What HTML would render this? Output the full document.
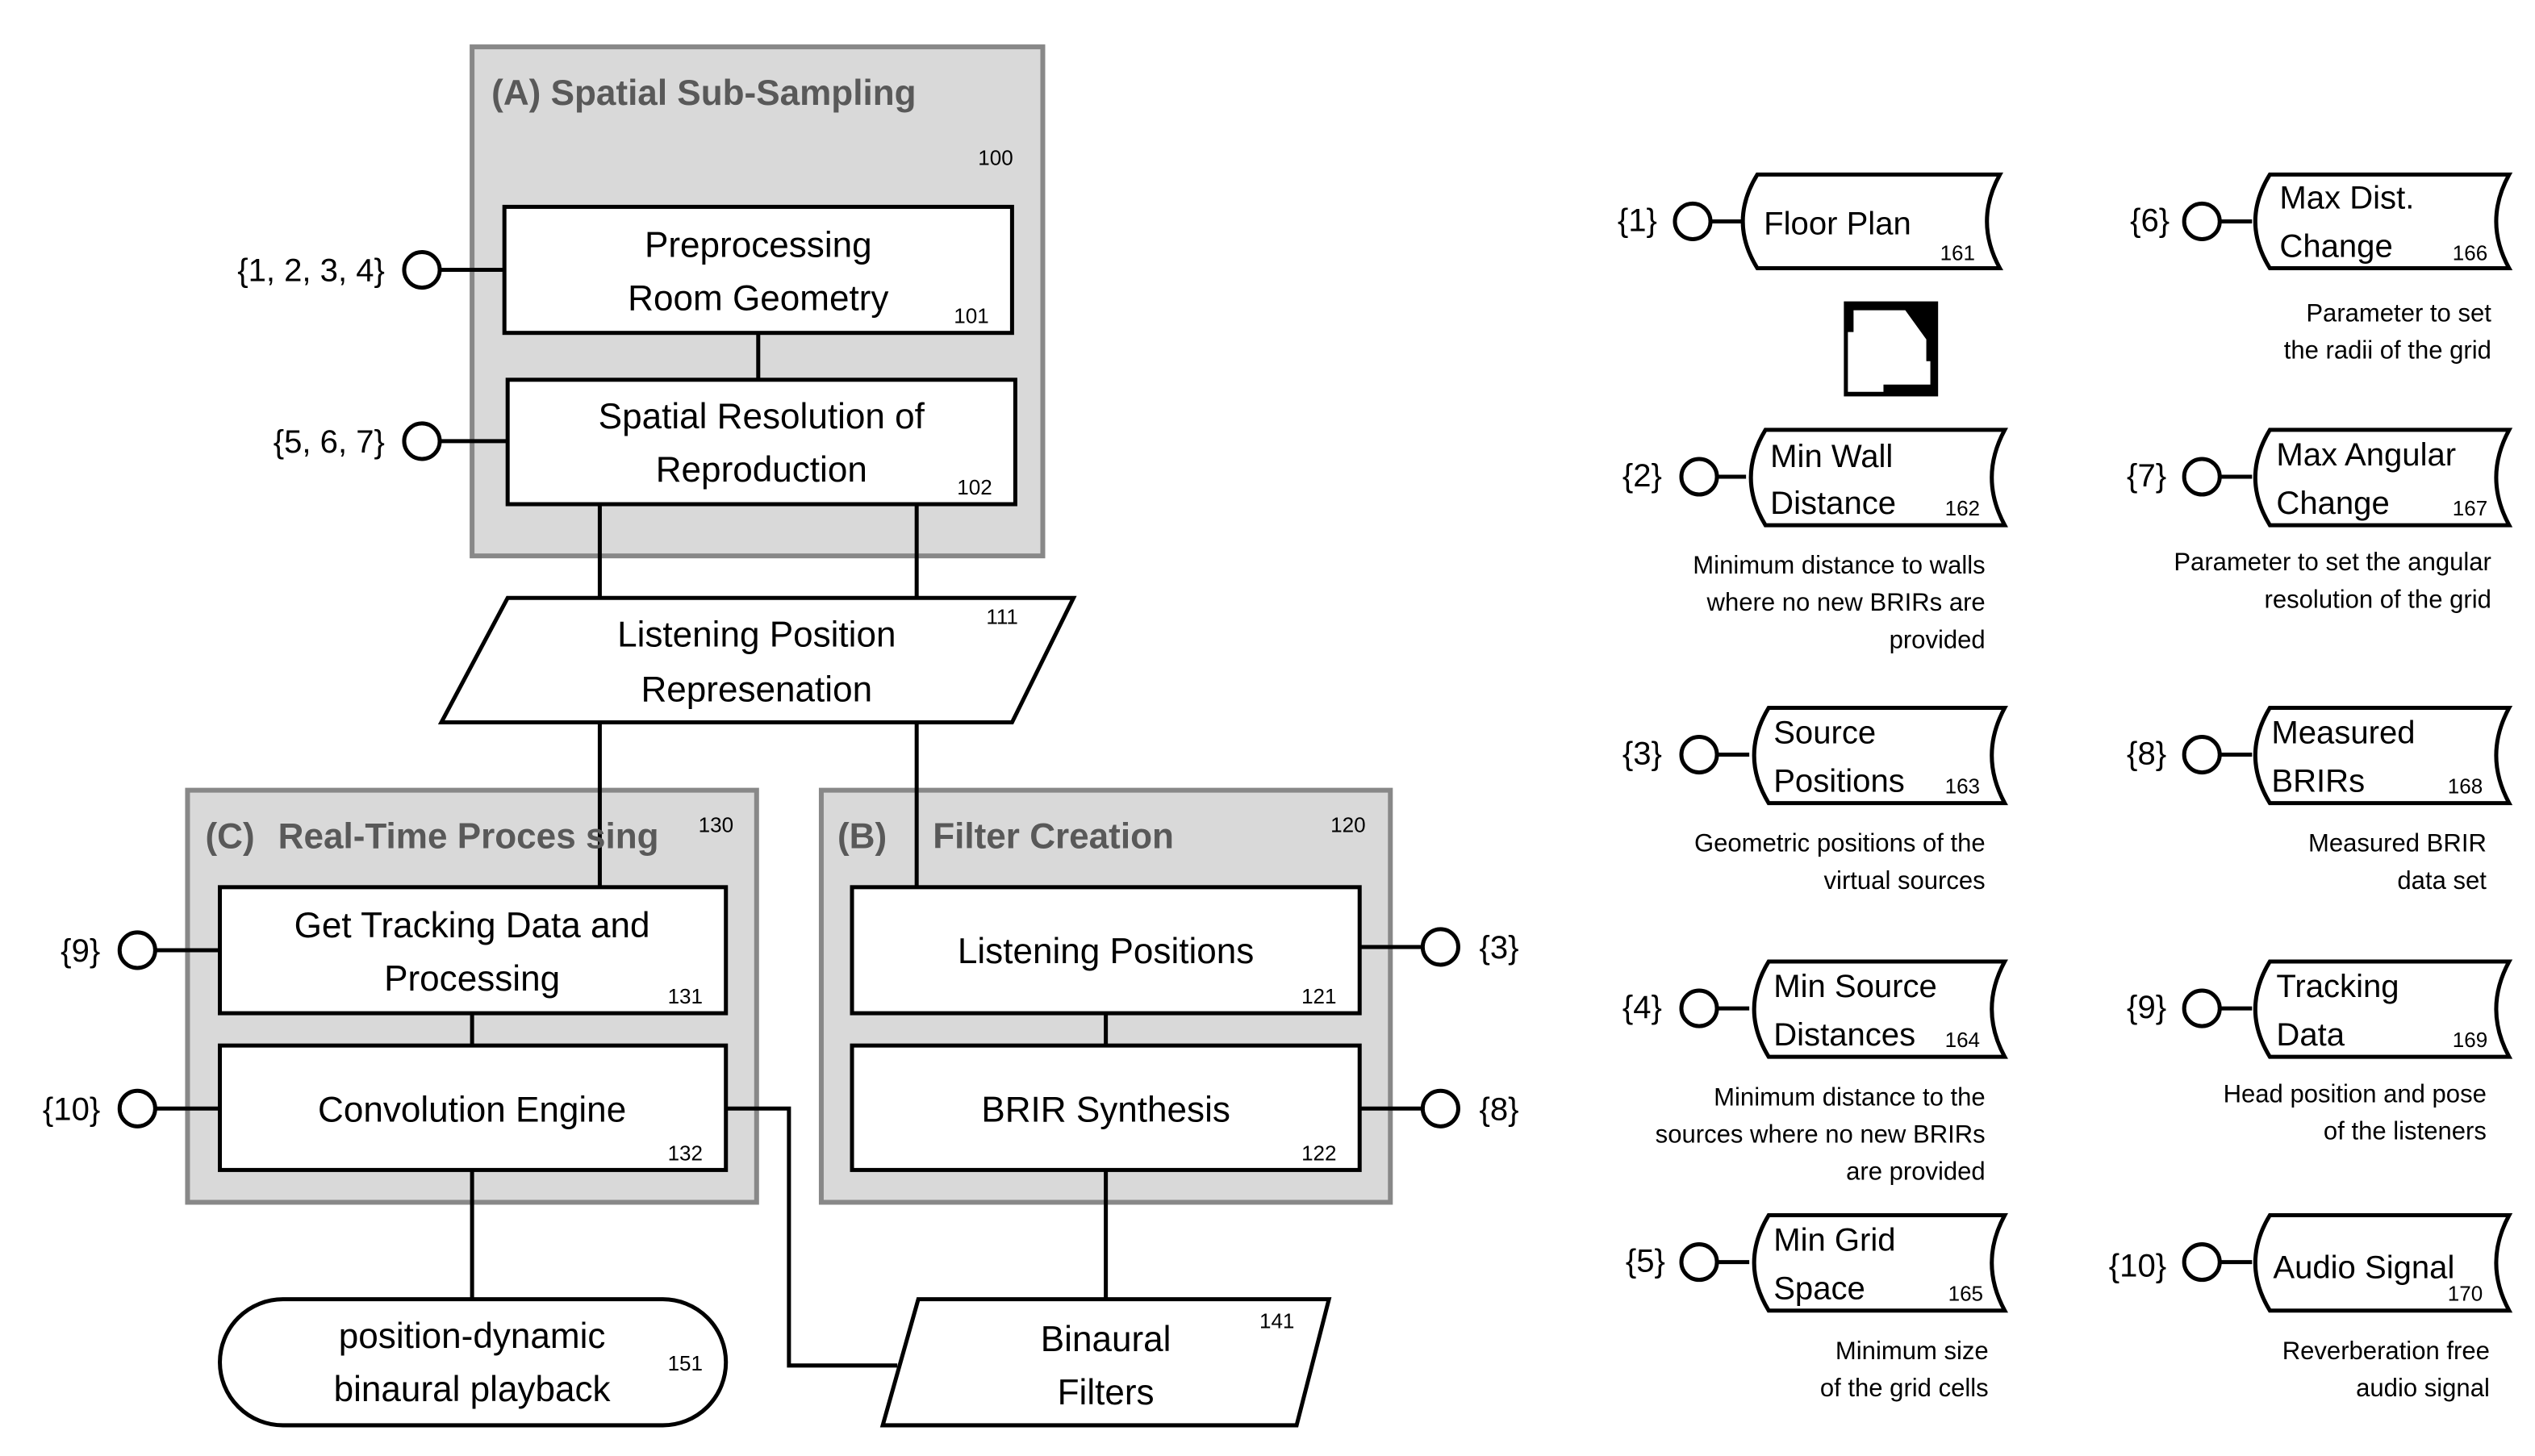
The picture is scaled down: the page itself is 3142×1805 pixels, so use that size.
<!DOCTYPE html>
<html><head><meta charset="utf-8"><style>
html,body{margin:0;padding:0;background:#fff}
svg{display:block}
text{font-family:"Liberation Sans",sans-serif;fill:#000}
.t{font-size:22px;text-anchor:middle}
.n{font-size:13px}
.h{font-size:22px;font-weight:bold;fill:#595959}
.d{font-size:15.5px;text-anchor:end}
.k{font-size:20px;text-anchor:end}
.l{font-size:20px}
</style></head><body>
<svg width="3142" height="1805" viewBox="0 0 1568 901" preserveAspectRatio="none" xmlns="http://www.w3.org/2000/svg">
<g fill="none" stroke="#000" stroke-width="2.5">
<rect x="292" y="29" width="353" height="315" fill="#d9d9d9" stroke="#888" stroke-width="3"/>
<rect x="116" y="489" width="352" height="255" fill="#d9d9d9" stroke="#888" stroke-width="3"/>
<rect x="508" y="489" width="352" height="255" fill="#d9d9d9" stroke="#888" stroke-width="3"/>
<line x1="469" y1="206" x2="469" y2="235"/>
<line x1="371" y1="312" x2="371" y2="370"/>
<line x1="567" y1="312" x2="567" y2="370"/>
<line x1="371" y1="447" x2="371" y2="549"/>
<line x1="567" y1="447" x2="567" y2="549"/>
<line x1="292" y1="627" x2="292" y2="647"/>
<line x1="684" y1="627" x2="684" y2="647"/>
<line x1="292" y1="724" x2="292" y2="804"/>
<line x1="684" y1="724" x2="684" y2="804"/>
<polyline points="449,686 488,686 488,845 555,845"/>
<line x1="272" y1="167" x2="312" y2="167"/>
<line x1="272" y1="273" x2="314" y2="273"/>
<line x1="96" y1="588" x2="136" y2="588"/>
<line x1="96" y1="686" x2="136" y2="686"/>
<line x1="841" y1="586" x2="880" y2="586"/>
<line x1="841" y1="686" x2="880" y2="686"/>
<rect x="312" y="128" width="314" height="78" fill="#fff"/>
<rect x="314" y="235" width="314" height="77" fill="#fff"/>
<polygon points="314,370 664,370 626,447 273,447" fill="#fff"/>
<rect x="136" y="549" width="313" height="78" fill="#fff"/>
<rect x="136" y="647" width="313" height="77" fill="#fff"/>
<rect x="527" y="549" width="314" height="78" fill="#fff"/>
<rect x="527" y="647" width="314" height="77" fill="#fff"/>
<rect x="136" y="804" width="313" height="78" rx="39" fill="#fff"/>
<polygon points="568,804 822,804 802,882 546,882" fill="#fff"/>
<circle cx="261" cy="167" r="11" fill="#fff"/>
<circle cx="261" cy="273" r="11" fill="#fff"/>
<circle cx="85" cy="588" r="11" fill="#fff"/>
<circle cx="85" cy="686" r="11" fill="#fff"/>
<circle cx="891" cy="586" r="11" fill="#fff"/>
<circle cx="891" cy="686" r="11" fill="#fff"/>
<line x1="1058" y1="137" x2="1077" y2="137"/>
<line x1="1062" y1="295" x2="1080" y2="295"/>
<line x1="1062" y1="467" x2="1082" y2="467"/>
<line x1="1062" y1="624" x2="1082" y2="624"/>
<line x1="1062" y1="781" x2="1082" y2="781"/>
<line x1="1373" y1="137" x2="1393" y2="137"/>
<line x1="1373" y1="295" x2="1393" y2="295"/>
<line x1="1373" y1="467" x2="1393" y2="467"/>
<line x1="1373" y1="624" x2="1393" y2="624"/>
<line x1="1373" y1="781" x2="1393" y2="781"/>
<circle cx="1047" cy="137" r="11" fill="#fff"/>
<circle cx="1051" cy="295" r="11" fill="#fff"/>
<circle cx="1051" cy="467" r="11" fill="#fff"/>
<circle cx="1051" cy="624" r="11" fill="#fff"/>
<circle cx="1051" cy="781" r="11" fill="#fff"/>
<circle cx="1362" cy="137" r="11" fill="#fff"/>
<circle cx="1362" cy="295" r="11" fill="#fff"/>
<circle cx="1362" cy="467" r="11" fill="#fff"/>
<circle cx="1362" cy="624" r="11" fill="#fff"/>
<circle cx="1362" cy="781" r="11" fill="#fff"/>
<path d="M1087,108 L1237,108 Q1221,137 1237,166 L1087,166 Q1069,137 1087,108Z" fill="#fff"/>
<path d="M1092,266 L1240,266 Q1224,295.5 1240,325 L1092,325 Q1074,295.5 1092,266Z" fill="#fff"/>
<path d="M1094,438 L1240,438 Q1224,467.5 1240,497 L1094,497 Q1076,467.5 1094,438Z" fill="#fff"/>
<path d="M1094,595 L1240,595 Q1224,624.5 1240,654 L1094,654 Q1076,624.5 1094,595Z" fill="#fff"/>
<path d="M1094,752 L1240,752 Q1224,781.5 1240,811 L1094,811 Q1076,781.5 1094,752Z" fill="#fff"/>
<path d="M1404,108 L1552,108 Q1536,137 1552,166 L1404,166 Q1386,137 1404,108Z" fill="#fff"/>
<path d="M1404,266 L1552,266 Q1536,295.5 1552,325 L1404,325 Q1386,295.5 1404,266Z" fill="#fff"/>
<path d="M1404,438 L1552,438 Q1536,467.5 1552,497 L1404,497 Q1386,467.5 1404,438Z" fill="#fff"/>
<path d="M1404,595 L1552,595 Q1536,624.5 1552,654 L1404,654 Q1386,624.5 1404,595Z" fill="#fff"/>
<path d="M1404,752 L1552,752 Q1536,781.5 1552,811 L1404,811 Q1386,781.5 1404,752Z" fill="#fff"/>
</g>
<rect x="1140.5" y="186.5" width="58.3" height="58.8" fill="#000"/>
<polygon points="1143,192 1178.5,192 1191.5,210 1191.5,223.5 1194,223.5 1194,238 1165,238 1165,242.5 1143,242.5 1143,205.5 1146.5,205.5 1146.5,192" fill="#fff"/>

<text x="304" y="65" class="h">(A) Spatial Sub-Sampling</text>
<text x="605" y="102" class="n">100</text>
<text x="127" y="525" class="h">(C)</text>
<text x="172" y="525" class="h">Real-Time Proces sing</text>
<text x="432" y="515" class="n">130</text>
<text x="518" y="525" class="h">(B)</text>
<text x="577" y="525" class="h">Filter Creation</text>
<text x="823" y="515" class="n">120</text>

<text x="469" y="159" class="t">Preprocessing</text>
<text x="469" y="192" class="t">Room Geometry</text>
<text x="590" y="200" class="n">101</text>
<text x="471" y="265" class="t">Spatial Resolution of</text>
<text x="471" y="298" class="t">Reproduction</text>
<text x="592" y="306" class="n">102</text>
<text x="468" y="400" class="t">Listening Position</text>
<text x="468" y="434" class="t">Represenation</text>
<text x="610" y="386" class="n">111</text>
<text x="292" y="580" class="t">Get Tracking Data and</text>
<text x="292" y="613" class="t">Processing</text>
<text x="413" y="621" class="n">131</text>
<text x="292" y="694" class="t">Convolution Engine</text>
<text x="413" y="718" class="n">132</text>
<text x="684" y="596" class="t">Listening Positions</text>
<text x="805" y="621" class="n">121</text>
<text x="684" y="694" class="t">BRIR Synthesis</text>
<text x="805" y="718" class="n">122</text>
<text x="292" y="834" class="t">position-dynamic</text>
<text x="292" y="867" class="t">binaural playback</text>
<text x="413" y="848" class="n">151</text>
<text x="684" y="836" class="t">Binaural</text>
<text x="684" y="869" class="t">Filters</text>
<text x="779" y="822" class="n">141</text>

<text x="238" y="174" class="k">{1, 2, 3, 4}</text>
<text x="238" y="280" class="k">{5, 6, 7}</text>
<text x="62" y="595" class="k">{9}</text>
<text x="62" y="693" class="k">{10}</text>
<text x="915" y="593" class="l">{3}</text>
<text x="915" y="693" class="l">{8}</text>

<text x="1025" y="143" class="k">{1}</text>
<text x="1028" y="301" class="k">{2}</text>
<text x="1028" y="473" class="k">{3}</text>
<text x="1028" y="630" class="k">{4}</text>
<text x="1030" y="787" class="k">{5}</text>
<text x="1342" y="143" class="k">{6}</text>
<text x="1340" y="301" class="k">{7}</text>
<text x="1340" y="473" class="k">{8}</text>
<text x="1340" y="630" class="k">{9}</text>
<text x="1340" y="790" class="k">{10}</text>

<text x="1091" y="145" class="l">Floor Plan</text><text x="1200" y="161" class="n">161</text>
<text x="1095" y="289" class="l">Min Wall</text><text x="1095" y="318" class="l">Distance</text><text x="1203" y="319" class="n">162</text>
<text x="1097" y="460" class="l">Source</text><text x="1097" y="490" class="l">Positions</text><text x="1203" y="491" class="n">163</text>
<text x="1097" y="617" class="l">Min Source</text><text x="1097" y="647" class="l">Distances</text><text x="1203" y="648" class="n">164</text>
<text x="1097" y="774" class="l">Min Grid</text><text x="1097" y="804" class="l">Space</text><text x="1205" y="805" class="n">165</text>
<text x="1410" y="129" class="l">Max Dist.</text><text x="1410" y="159" class="l">Change</text><text x="1517" y="161" class="n">166</text>
<text x="1408" y="288" class="l">Max Angular</text><text x="1408" y="318" class="l">Change</text><text x="1517" y="319" class="n">167</text>
<text x="1405" y="460" class="l">Measured</text><text x="1405" y="490" class="l">BRIRs</text><text x="1514" y="491" class="n">168</text>
<text x="1408" y="617" class="l">Tracking</text><text x="1408" y="647" class="l">Data</text><text x="1517" y="648" class="n">169</text>
<text x="1406" y="791" class="l">Audio Signal</text><text x="1514" y="805" class="n">170</text>

<text x="1228" y="355" class="d">Minimum distance to walls</text>
<text x="1228" y="378" class="d">where no new BRIRs are</text>
<text x="1228" y="401" class="d">provided</text>
<text x="1228" y="527" class="d">Geometric positions of the</text>
<text x="1228" y="550" class="d">virtual sources</text>
<text x="1228" y="684" class="d">Minimum distance to the</text>
<text x="1228" y="707" class="d">sources where no new BRIRs</text>
<text x="1228" y="730" class="d">are provided</text>
<text x="1230" y="841" class="d">Minimum size</text>
<text x="1230" y="864" class="d">of the grid cells</text>
<text x="1541" y="199" class="d">Parameter to set</text>
<text x="1541" y="222" class="d">the radii of the grid</text>
<text x="1541" y="353" class="d">Parameter to set the angular</text>
<text x="1541" y="376" class="d">resolution of the grid</text>
<text x="1538" y="527" class="d">Measured BRIR</text>
<text x="1538" y="550" class="d">data set</text>
<text x="1538" y="682" class="d">Head position and pose</text>
<text x="1538" y="705" class="d">of the listeners</text>
<text x="1540" y="841" class="d">Reverberation free</text>
<text x="1540" y="864" class="d">audio signal</text>
</svg>
</body></html>
